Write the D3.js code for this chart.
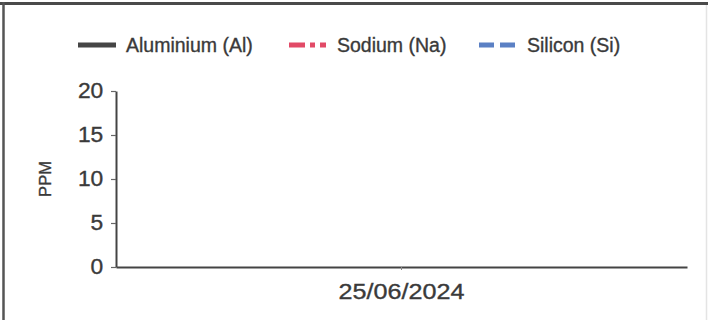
<!DOCTYPE html>
<html>
<head>
<meta charset="utf-8">
<script src="https://cdn.jsdelivr.net/npm/d3@7"></script>
<style>
  html, body { margin: 0; padding: 0; background: #fff; }
  svg { display: block; }
  text { font-family: "Liberation Sans", Arial, sans-serif; fill: #3a3a3a; stroke: #3a3a3a; stroke-width: 0.35px; }
</style>
</head>
<body>
<svg id="chart" width="708" height="320"></svg>
<script>
// ---- data ----
const categories = ["25/06/2024"];
const seriesNames = ["Aluminium (Al)", "Sodium (Na)", "Silicon (Si)"];
const aluminium = [null];
const sodium = [null];
const silicon = [null];
const yTicks = [0, 5, 10, 15, 20];
const yLabel = "PPM";

const series = [
  { name: seriesNames[0], values: aluminium, color: "#454545", dash: null },
  { name: seriesNames[1], values: sodium, color: "#e24a67", dash: "16,5,5,5,6,5" },
  { name: seriesNames[2], values: silicon, color: "#5b80c4", dash: "15,6" }
];

const svg = d3.select("#chart");
const W = 708, H = 320;
const m = { left: 116, right: 708 - 687, top: 91, bottom: 320 - 267 };

// frame (scanned border)
svg.append("rect").attr("x", 0).attr("y", 0).attr("width", W).attr("height", H).attr("fill", "#fff");
svg.append("line").attr("x1", 0).attr("x2", W).attr("y1", 3.5).attr("y2", 3.5)
  .attr("stroke", "#4a4a4a").attr("stroke-width", 3);
svg.append("line").attr("x1", 3.5).attr("x2", 3.5).attr("y1", 2).attr("y2", H)
  .attr("stroke", "#555").attr("stroke-width", 2.5);
svg.append("line").attr("x1", 706.5).attr("x2", 706.5).attr("y1", 5).attr("y2", H)
  .attr("stroke", "#e4e4e4").attr("stroke-width", 1.5);

const x = d3.scaleBand().domain(categories).range([m.left, W - m.right]);
const y = d3.scaleLinear().domain([0, 20]).range([H - m.bottom, m.top]);

// y axis
const yAxis = svg.append("g").attr("transform", `translate(${m.left},0)`)
  .call(d3.axisLeft(y).tickValues(yTicks).tickSize(5).tickSizeOuter(0).tickPadding(7));
yAxis.select(".domain").attr("stroke", "#444").attr("stroke-width", 2);
yAxis.selectAll(".tick line").attr("stroke", "#666").attr("stroke-width", 1.2);
yAxis.selectAll(".tick text").attr("font-size", 21.5)
  .attr("transform", "scale(1.06,1)")
  .attr("font-family", "'Liberation Sans', Arial, sans-serif");
// x axis
const xAxis = svg.append("g").attr("transform", `translate(0,${H - m.bottom})`)
  .call(d3.axisBottom(x).tickSize(3).tickSizeOuter(0).tickPadding(14));
xAxis.select(".domain").attr("stroke", "#444").attr("stroke-width", 2);
xAxis.selectAll(".tick line").attr("stroke", "#888").attr("stroke-width", 1);
xAxis.selectAll(".tick text").attr("font-size", 21.5)
  .attr("transform", "scale(1.17,1)")
  .attr("font-family", "'Liberation Sans', Arial, sans-serif");

// y label
svg.append("text")
  .attr("transform", `translate(51,${(y(0) + y(20)) / 2}) rotate(-90)`)
  .attr("text-anchor", "middle").attr("font-size", 16.5).text(yLabel);

// lines
const line = d3.line()
  .defined(d => d.v != null)
  .x(d => x(d.c) + x.bandwidth() / 2)
  .y(d => y(d.v));
series.forEach(s => {
  svg.append("path")
    .datum(categories.map((c, i) => ({ c, v: s.values[i] })))
    .attr("fill", "none").attr("stroke", s.color).attr("stroke-width", 3)
    .attr("stroke-dasharray", s.dash)
    .attr("d", line);
});

// legend
const legendX = [78, 289, 479];
const lg = svg.append("g");
series.forEach((s, i) => {
  const g = lg.append("g").attr("transform", `translate(${legendX[i]},45)`);
  g.append("line").attr("x1", 0).attr("x2", 38).attr("y1", 0).attr("y2", 0)
    .attr("stroke", s.color).attr("stroke-width", 5)
    .attr("stroke-dasharray", s.dash);
  g.append("text").attr("x", 48).attr("y", 7).attr("font-size", 19.5).text(s.name);
});
</script>
</body>
</html>
